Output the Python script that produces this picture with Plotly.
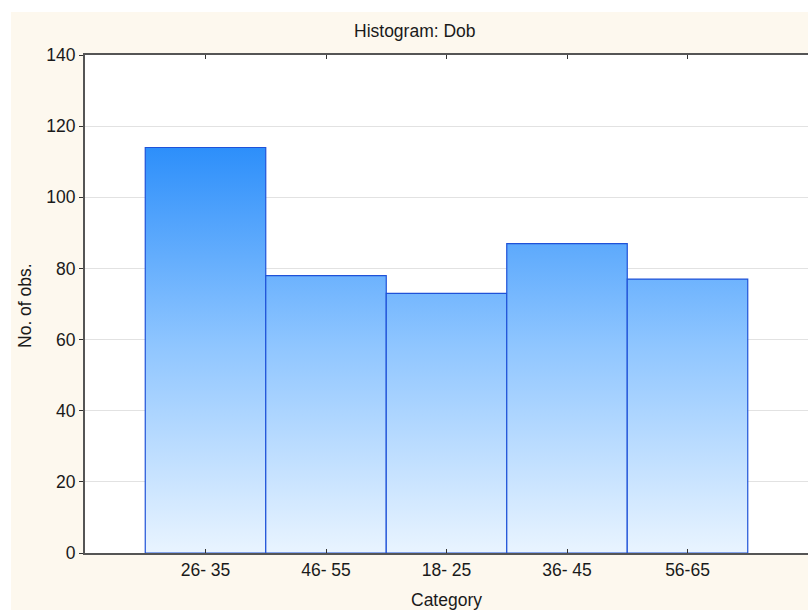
import plotly.graph_objects as go

categories = ["26- 35", "46- 55", "18- 25", "36- 45", "56-65"]
counts = [114, 78, 73, 87, 77]
y_ticks = [0, 20, 40, 60, 80, 100, 120, 140]

FONT = "Liberation Sans, Arial, sans-serif"
TXT = "#1a1a1a"
CREAM = "#fdf8ee"

fig = go.Figure()
for i, (cat, v) in enumerate(zip(categories, counts)):
    fig.add_trace(go.Scatter(
        x=[i - 0.5, i - 0.5, i + 0.5, i + 0.5, i - 0.5],
        y=[0, v, v, 0, 0],
        mode="lines",
        fill="toself",
        fillgradient=dict(type="vertical", start=0, stop=118,
                          colorscale=[[0, "#e9f4ff"], [0.5, "#8ec5ff"], [1, "#268bfa"]]),
        line=dict(color="#1f52d8", width=1.2),
        hoverinfo="text", text=f"{cat}: {v}",
        showlegend=False,
    ))

ann_font = dict(size=17.5, color=TXT)
fig.update_layout(
    width=808, height=610,
    margin=dict(l=85, r=0, t=55, b=57, autoexpand=False),
    paper_bgcolor=CREAM,
    plot_bgcolor="white",
    font=dict(family=FONT, size=18, color=TXT),
    showlegend=False,
    xaxis=dict(
        range=[-1, 5],
        tickmode="array",
        tickvals=list(range(len(categories))),
        ticktext=categories,
        ticks="inside", ticklen=4, tickcolor="#333",
        showline=True, linecolor="#555", linewidth=2,
        mirror="ticks",
        showgrid=False, zeroline=False, automargin=False,
        tickfont=dict(size=17.5, color=TXT),
    ),
    yaxis=dict(
        range=[0, 140],
        tickmode="array",
        tickvals=y_ticks,
        ticks="outside", ticklen=4, tickcolor="#333",
        showline=True, linecolor="#555", linewidth=2,
        mirror="ticks",
        showgrid=True, gridcolor="#e2e2e2", gridwidth=1,
        zeroline=False, automargin=False,
        tickfont=dict(size=17.5, color=TXT),
    ),
    shapes=[
        dict(type="rect", xref="paper", yref="paper", x0=-0.2, x1=1.05,
             y0=1.0863, y1=1.2, fillcolor="white", line=dict(width=0)),
        dict(type="rect", xref="paper", yref="paper", x0=-0.2, x1=-0.1024,
             y0=-0.2, y1=1.2, fillcolor="white", line=dict(width=0)),
    ],
    annotations=[
        dict(text="Histogram: Dob", xref="paper", yref="paper",
             x=0.456, y=1.048, xanchor="center", yanchor="middle",
             showarrow=False, font=ann_font),
        dict(text="No. of obs.", xref="paper", yref="paper",
             x=-0.083, y=0.498, xanchor="center", yanchor="middle",
             textangle=-90, showarrow=False, font=ann_font),
        dict(text="Category", xref="paper", yref="paper",
             x=0.5, y=-0.094, xanchor="center", yanchor="middle",
             showarrow=False, font=ann_font),
    ],
)

fig.write_html(
    "out.html",
    config={"displayModeBar": False},
    post_script="document.body.style.margin='0';document.body.style.overflow='hidden';",
)
